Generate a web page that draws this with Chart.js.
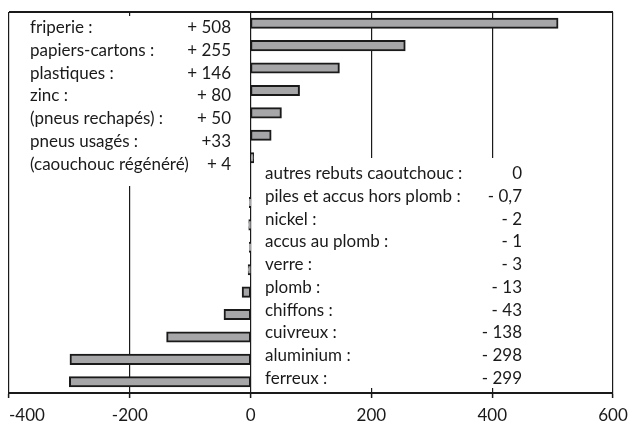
<!DOCTYPE html>
<html><head><meta charset="utf-8">
<script src="https://cdn.jsdelivr.net/npm/chart.js@4.4.1/dist/chart.umd.min.js"></script>
<style>html,body{margin:0;padding:0;background:#fff}#wrap{width:630px;height:424px}</style>
</head><body><div id="wrap"><canvas id="c" width="630" height="424"></canvas></div>
<script>
const categories = ['friperie','papiers-cartons','plastiques','zinc','(pneus rechapés)','pneus usagés','(caouchouc régénéré)','autres rebuts caoutchouc','piles et accus hors plomb','nickel','accus au plomb','verre','plomb','chiffons','cuivreux','aluminium','ferreux'];
const values = [508,255,146,80,50,33,4,0,-0.7,-2,-1,-3,-13,-43,-138,-298,-299];
const rowLabels = ['friperie :','papiers-cartons :','plastiques :','zinc :','(pneus rechapés) :','pneus usagés :','(caouchouc régénéré)','autres rebuts caoutchouc :','piles et accus hors plomb :','nickel :','accus au plomb :','verre :','plomb :','chiffons :','cuivreux :','aluminium :','ferreux :'];
const valueLabels = ['+ 508','+ 255','+ 146','+ 80','+ 50','+33','+ 4','0','- 0,7','- 2','- 1','- 3','- 13','- 43','- 138','- 298','- 299'];
const xTicks = [-400,-200,0,200,400,600];

const FONT = 'Lato, "Open Sans", sans-serif';
const INK = '#1a1a1a';

const overlay = {
  id:'overlay',
  beforeDatasetsDraw(chart){
    const ctx = chart.ctx, a = chart.chartArea;
    ctx.save();
    ctx.fillStyle = '#fff';
    ctx.fillRect(11, 16, 237, 170);
    ctx.fillRect(252.5, 158, 353, 230);
    ctx.strokeStyle = INK; ctx.lineWidth = 2;
    ctx.beginPath(); ctx.moveTo(a.left, a.top); ctx.lineTo(a.right, a.top); ctx.stroke();
    ctx.fillStyle = INK; ctx.font = '17px ' + FONT; ctx.textBaseline = 'middle';
    const lh = 22.67;
    for (let i=0;i<7;i++){
      const y = 28 + i*lh;
      ctx.textAlign='left'; ctx.fillText(rowLabels[i], 30, y);
      ctx.textAlign='right'; ctx.fillText(valueLabels[i], 231, y);
    }
    for (let i=7;i<17;i++){
      const y = 174 + (i-7)*lh;
      ctx.textAlign='left'; ctx.fillText(rowLabels[i], 265, y);
      ctx.textAlign='right'; ctx.fillText(valueLabels[i], 522, y);
    }
    ctx.restore();
  },
  afterDraw(chart){
    const ctx = chart.ctx, s = chart.scales.x;
    ctx.save();
    ctx.fillStyle = INK; ctx.font = '17px ' + FONT; ctx.textBaseline = 'middle';
    xTicks.forEach((v,i)=>{
      const px = s.getPixelForValue(v);
      ctx.textAlign = i===0 ? 'left' : 'center';
      ctx.fillText(String(v), px, 416);
    });
    ctx.restore();
  }
};

new Chart(document.getElementById('c'), {
  type:'bar',
  data:{ labels:categories, datasets:[{ data:values, backgroundColor:'#a6a6a8', borderColor:INK, borderWidth:2, borderSkipped:false, inflateAmount:1, barPercentage:0.9, categoryPercentage:0.45 }]},
  options:{
    indexAxis:'y', responsive:false, animation:false,
    layout:{ padding:{ left:9, right:17, top:12, bottom:26 } },
    plugins:{ legend:{display:false}, tooltip:{enabled:false} },
    scales:{
      x:{ min:-400, max:600, afterBuildTicks(s){ s.ticks = xTicks.map(v=>({value:v})); },
        grid:{ color:INK, lineWidth:1.2, tickLength:5, tickColor:INK, tickWidth:1.5 },
        border:{ display:true, color:INK, width:2 },
        ticks:{ display:false } },
      y:{ display:false }
    }
  },
  plugins:[overlay]
});
</script></body></html>
